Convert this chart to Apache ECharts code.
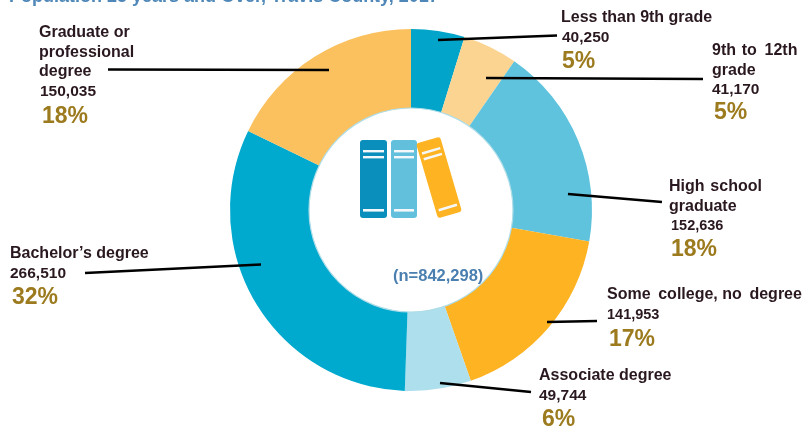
<!DOCTYPE html>
<html><head><meta charset="utf-8">
<style>html,body{margin:0;padding:0;background:#fff}#c{width:803px;height:429px}</style>
<script src="https://cdn.jsdelivr.net/npm/echarts@6/dist/echarts.min.js"></script>
</head><body><div id="c"></div>
<script>
const titleText = 'Population 25 years and Over, Travis County, 2017';
const categories = ['Less than 9th grade','9th\u200a to\u2009 12th\ngrade','High\u200a school\ngraduate','Some\u2009 college, no\u2009 degree','Associate degree',"Bachelor\u2019s degree",'Graduate or\nprofessional\ndegree'];
const values = [40250,41170,152636,141953,49744,266510,150035];
const valueLabels = ['40,250','41,170','152,636','141,953','49,744','266,510','150,035'];
const percents = ['5%','5%','18%','17%','6%','32%','18%'];
const totalLabel = '(n=842,298)';
const colors = ['#02a5c9','#fbd491','#5fc3de','#fdb322','#aedfec','#00a9ce','#fbc15f'];
// annotation layout, kept apart from the data
const labelAt = [[561,8],[712,41],[669,177],[607,285],[539,366],[10,244],[39,23]];
const leaders = [[[438,40],[557,35.5]],[[486,78],[703,79]],[[568,194],[662,202]],[[547,322],[597,321]],[[440,383],[531,392]],[[261,264.5],[85,273]],[[329,70],[108,69.5]]];
const indents = [[0,1,1],[0,0,2],[0,2,2],[0,0,2],[0,0,3],[0,0,2],[0,1,3]];
const valueSize = [15.5,15.5,14.5,14.5,15.5,15.5,15.5];
const pctLine = [28,25,28,30,28,28,30];

const dark = '#2a1820', gold = '#9c7a1e', font = '"Liberation Sans",Arial,sans-serif';
const white = '#f4f8fa';
function book(x,y,w,h,fill){
  return {type:'group',x,y,children:[
    {type:'rect',shape:{x:0,y:0,width:w,height:h,r:3},style:{fill}},
    {type:'rect',shape:{x:3,y:10,width:w-6,height:2.4},style:{fill:white}},
    {type:'rect',shape:{x:3,y:16,width:w-6,height:2.4},style:{fill:white}},
    {type:'rect',shape:{x:3,y:h-9,width:w-6,height:2.6},style:{fill:white}}
  ]};
}
const tilted = book(0,0,25,78,'#fdb322');
tilted.x=439; tilted.y=177.5; tilted.rotation=0.285;
tilted.children.forEach(c=>{c.shape.x-=12.5;c.shape.y-=39;});

const ring = {type:'pie',center:[411,210],radius:[102,181],startAngle:90,clockwise:true,silent:true,itemStyle:{borderWidth:0}};
const option = {
  animation:false,
  title:{text:titleText,left:9,top:-12,padding:0,textStyle:{color:'#4f88b8',fontFamily:font,fontWeight:'bold',fontSize:18}},
  series:[
  Object.assign({},ring,{z:2,
    data:values.map((v,i)=>({value:v,name:categories[i],itemStyle:{color:colors[i]}})),
    label:{show:false},labelLine:{show:false}
  }),
  Object.assign({},ring,{z:4,
    data:values.map((v,i)=>{
      const ind=indents[i];
      return {value:v,name:categories[i],itemStyle:{color:'rgba(0,0,0,0)'},
        label:{
          formatter:()=>categories[i].split('\n').map(s=>'{n|'+s+'}').join('\n')+'\n{v|'+valueLabels[i]+'}\n{p|'+percents[i]+'}',
          rich:{
            n:{fontFamily:font,fontWeight:'bold',fontSize:16,lineHeight:19.5,color:dark,align:'left'},
            v:{fontFamily:font,fontWeight:'bold',fontSize:valueSize[i],lineHeight:20,color:dark,align:'left',padding:[0,0,0,ind[1]]},
            p:{fontFamily:font,fontWeight:'bold',fontSize:23,lineHeight:pctLine[i],color:gold,align:'left',padding:[0,0,0,ind[2]]}
          }
        }};
    }),
    label:{show:true,position:'outer',alignTo:'none',color:dark},
    labelLine:{show:true,showAbove:true,length:10,length2:10,smooth:false,lineStyle:{color:'#000',width:2.6,cap:'butt'}},
    labelLayout:function(p){
      const a=labelAt[p.dataIndex], l=leaders[p.dataIndex];
      return {x:a[0],y:a[1],align:'left',verticalAlign:'top',hideOverlap:false,moveOverlap:false,
        labelLinePoints:[l[0],[(l[0][0]+l[1][0])/2,(l[0][1]+l[1][1])/2],l[1]]};
    }
  })],
  graphic:[
    {type:'circle',shape:{cx:411,cy:210,r:102},style:{fill:null,stroke:'#aedde8',lineWidth:1.2},z:3},
    Object.assign(book(360,140,27,78,'#0a8fbc'),{z:6}),
    Object.assign(book(391,140,26,78,'#62c0dd'),{z:6}),
    Object.assign(tilted,{z:6}),
    {type:'text',x:393,y:268,z:7,style:{text:totalLabel,fill:'#4a7fb0',font:'bold 16.5px '+font}}
  ]
};
echarts.init(document.getElementById('c'),null,{renderer:'canvas'}).setOption(option);
</script></body></html>
